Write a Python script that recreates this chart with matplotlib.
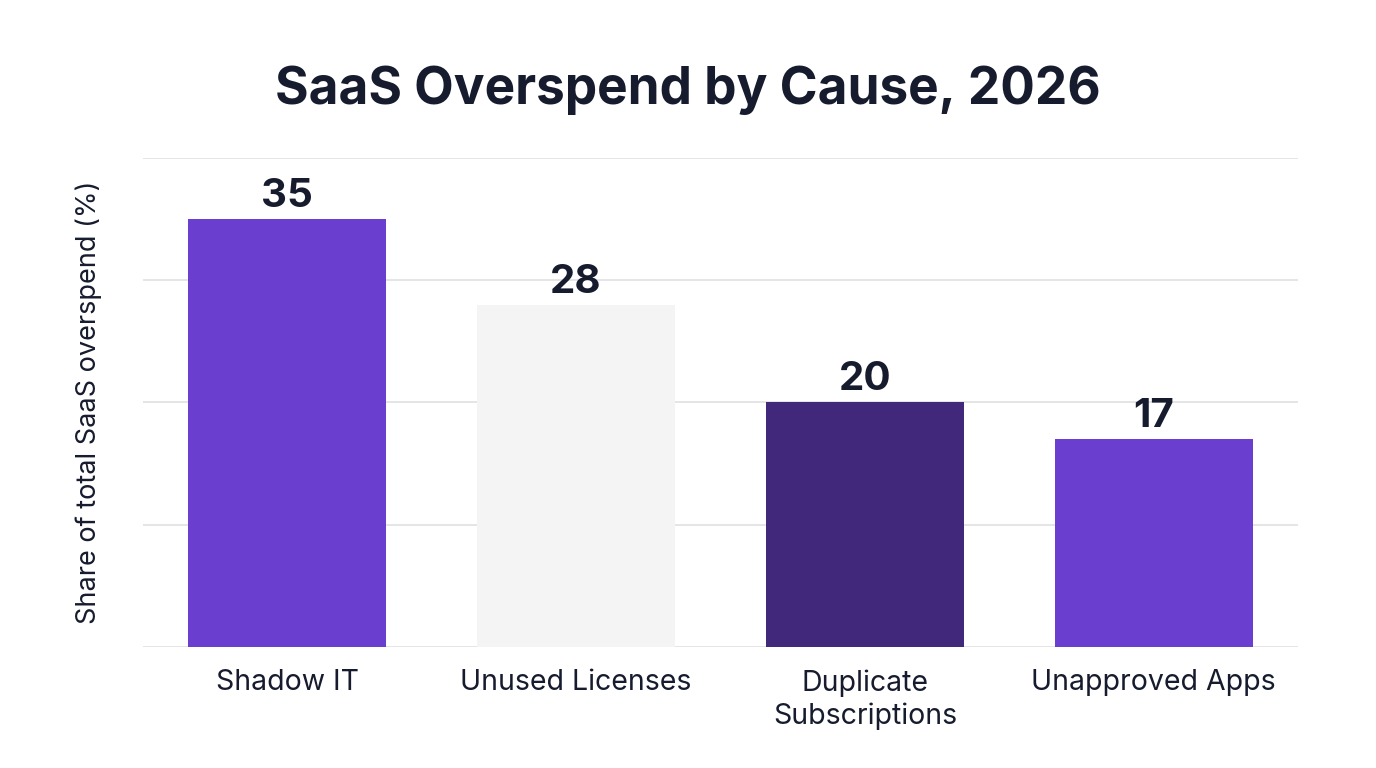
import matplotlib.pyplot as plt

# Data
causes = ["Shadow IT", "Unused Licenses", "Duplicate\nSubscriptions", "Unapproved Apps"]
shares = [35, 28, 20, 17]
colors = ["#6A3ECF", "#F4F4F4", "#42287A", "#6A3ECF"]

TEXT = "#161B2E"
plt.rcParams["font.family"] = ["Inter", "DejaVu Sans"]

fig = plt.figure(figsize=(13.76, 7.68), dpi=100)
ax = fig.add_axes([0.1039, 0.1576, 0.8394, 0.6367])

x = range(len(causes))
bars = ax.bar(x, shares, width=0.685, color=colors, zorder=2)

for xi, v in zip(x, shares):
    ax.annotate(str(v), (xi, v), xytext=(0, 3), textcoords="offset points",
                ha="center", va="bottom", fontsize=29, fontweight="bold", color=TEXT)

ax.set_xlim(-0.5, 3.5)
ax.set_ylim(0, 40)
ax.set_yticks([0, 10, 20, 30, 40])
ax.set_yticklabels([])
ax.tick_params(axis="y", length=0)
ax.tick_params(axis="x", length=0, pad=16, labelsize=20.5, labelcolor=TEXT)
ax.set_xticks(list(x))
ax.set_xticklabels(causes, linespacing=1.25)

ax.grid(axis="y", color="#DEDEE2", linewidth=1.1, zorder=0)
for s in ax.spines.values():
    s.set_visible(False)

ax.set_ylabel("Share of total SaaS overspend (%)", fontsize=19.5, color=TEXT, labelpad=26)
fig.text(0.5, 0.882, "SaaS Overspend by Cause, 2026", ha="center", va="center",
         fontsize=37, fontweight="bold", color=TEXT)

fig.savefig("out.png", dpi=100, facecolor="white")
